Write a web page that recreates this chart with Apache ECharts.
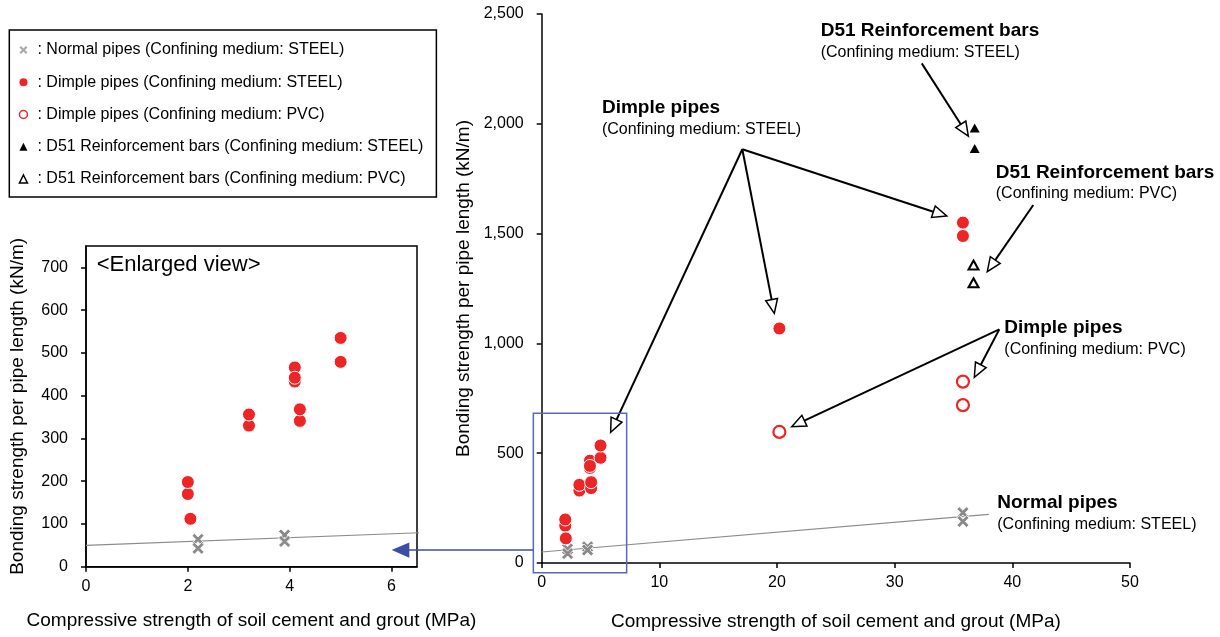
<!DOCTYPE html>
<html><head><meta charset="utf-8">
<script src="https://cdn.jsdelivr.net/npm/echarts@6/dist/echarts.min.js"></script>
<style>html,body{margin:0;padding:0;background:#fff}#c{width:1220px;height:637px}</style>
</head><body><div id="c"></div>
<script>
// ---- tick labels ----
const mainXTicks = [0, 10, 20, 30, 40, 50];
const mainYTicks = [0, 500, 1000, 1500, 2000, 2500];
const insetXTicks = [0, 2, 4, 6];
const insetYTicks = [0, 100, 200, 300, 400, 500, 600, 700];

// ---- series names ----
const nameNormalSteel = 'Normal pipes (Confining medium: STEEL)';
const nameDimpleSteel = 'Dimple pipes (Confining medium: STEEL)';
const nameDimplePvc = 'Dimple pipes (Confining medium: PVC)';
const nameD51Steel = 'D51 Reinforcement bars (Confining medium: STEEL)';
const nameD51Pvc = 'D51 Reinforcement bars (Confining medium: PVC)';

// ---- data [compressive strength MPa, bonding strength kN/m] ----
const normalPipesSteel = [[2.2, 64], [2.2, 43], [3.9, 74], [3.9, 59], [35.8, 229], [35.8, 189]];
const dimplePipesSteel = [[2.0, 170], [2.0, 198], [2.05, 112], [3.2, 330], [3.2, 356], [4.1, 433], [4.1, 466], [4.1, 442], [4.2, 341], [4.2, 368], [5.0, 479], [5.0, 535], [20.2, 1068], [35.8, 1550], [35.8, 1489]];
const dimplePipesPvc = [[20.2, 597], [35.8, 826], [35.8, 719]];
const d51BarsSteel = [[36.8, 1981], [36.8, 1887]];
const d51BarsPvc = [[36.7, 1357], [36.7, 1276]];
const normalTrend = [[0, 50], [38, 221]];

const FONT = '"Liberation Sans", Arial, Helvetica, sans-serif';
const RED = '#ee2526';
const GRAY = '#8a8a8a';
const CROSS = 'path://M2,0L5,3L8,0L10,2L7,5L10,8L8,10L5,7L2,10L0,8L3,5L0,2Z';
const INSET_MAX_X = 6.5;

const chart = echarts.init(document.getElementById('c'), null, {renderer: 'canvas'});

const axisCommon = {
  axisLine: {show: true, onZero: false, lineStyle: {color: '#000', width: 1.5}},
  axisTick: {show: true, length: 5, lineStyle: {color: '#000', width: 1.5}},
  splitLine: {show: false},
  axisLabel: {color: '#000', fontSize: 16, fontFamily: FONT, margin: 18},
  nameTextStyle: {color: '#000', fontSize: 19, fontFamily: FONT},
  nameLocation: 'middle'
};
function fmtThousands(v) { return String(v).replace(/\B(?=(\d{3})+(?!\d))/g, ','); }

const option = {
  animation: false,
  textStyle: {fontFamily: FONT},
  grid: [
    {left: 541.7, top: 14, width: 588.3, height: 549, containLabel: false, outerBoundsMode: 'none'},
    {left: 86, top: 246, width: 331, height: 320.7, containLabel: false, outerBoundsMode: 'none',
     show: true, borderColor: '#000', borderWidth: 1.5, backgroundColor: 'transparent'}
  ],
  xAxis: [
    Object.assign({}, axisCommon, {
      gridIndex: 0, type: 'value', min: mainXTicks[0], max: mainXTicks[mainXTicks.length - 1],
      interval: mainXTicks[1] - mainXTicks[0],
      name: 'Compressive strength of soil cement and grout (MPa)', nameGap: 49,
      axisLabel: Object.assign({}, axisCommon.axisLabel, {margin: 12})
    }),
    Object.assign({}, axisCommon, {
      gridIndex: 1, type: 'value', min: 0, max: INSET_MAX_X, interval: 2,
      name: 'Compressive strength of soil cement and grout (MPa)', nameGap: 45,
      axisLabel: Object.assign({}, axisCommon.axisLabel, {margin: 12, customValues: insetXTicks}),
      axisTick: Object.assign({}, axisCommon.axisTick, {customValues: insetXTicks})
    })
  ],
  yAxis: [
    Object.assign({}, axisCommon, {
      gridIndex: 0, type: 'value', min: mainYTicks[0], max: mainYTicks[mainYTicks.length - 1],
      interval: mainYTicks[1] - mainYTicks[0],
      name: 'Bonding strength per pipe length (kN/m)', nameGap: 68,
      axisLabel: Object.assign({}, axisCommon.axisLabel, {formatter: fmtThousands})
    }),
    Object.assign({}, axisCommon, {
      gridIndex: 1, type: 'value', min: 0, max: 750, interval: 100,
      name: 'Bonding strength per pipe length (kN/m)', nameGap: 59,
      axisLabel: Object.assign({}, axisCommon.axisLabel, {customValues: insetYTicks}),
      axisTick: Object.assign({}, axisCommon.axisTick, {customValues: insetYTicks})
    })
  ],
  legend: {
    orient: 'vertical', left: 9.3, top: 30,
    padding: [12, 13, 10, 9.4], itemGap: 16.25, itemWidth: 8, itemHeight: 8,
    borderColor: '#000', borderWidth: 1.5, selectedMode: false,
    textStyle: {fontSize: 16, color: '#000', fontFamily: FONT, padding: [0, 0, 0, 5]},
    formatter: function (n) { return ': ' + n; },
    data: [
      {name: nameNormalSteel, icon: CROSS, itemStyle: {color: '#ababab', borderWidth: 0}},
      {name: nameDimpleSteel, icon: 'circle', itemStyle: {color: RED, borderWidth: 0}},
      {name: nameDimplePvc, icon: 'circle', itemStyle: {color: '#fff', borderColor: RED, borderWidth: 1.5}},
      {name: nameD51Steel, icon: 'triangle', itemStyle: {color: '#000', borderWidth: 0}},
      {name: nameD51Pvc, icon: 'triangle', itemStyle: {color: '#fff', borderColor: '#000', borderWidth: 1.5}}
    ]
  },
  series: [
    {type: 'line', name: 'trend', xAxisIndex: 0, yAxisIndex: 0, data: normalTrend, showSymbol: false, symbol: 'none',
     lineStyle: {color: '#8c8c8c', width: 1.2}, silent: true, z: 1},
    {type: 'line', name: 'trend inset', xAxisIndex: 1, yAxisIndex: 1, data: normalTrend, showSymbol: false, symbol: 'none',
     clip: true, lineStyle: {color: '#8c8c8c', width: 1.2}, silent: true, z: 1},
    {type: 'scatter', name: nameNormalSteel, xAxisIndex: 0, yAxisIndex: 0, data: normalPipesSteel,
     symbol: CROSS, symbolSize: 12, itemStyle: {color: GRAY, borderColor: '#fff', borderWidth: 0.8, opacity: 1}, z: 3},
    {type: 'scatter', name: nameDimpleSteel, xAxisIndex: 0, yAxisIndex: 0, data: dimplePipesSteel,
     symbol: 'circle', symbolSize: 13, itemStyle: {color: RED, borderColor: '#fff', borderWidth: 1, opacity: 1}, z: 3},
    {type: 'scatter', name: nameDimplePvc, xAxisIndex: 0, yAxisIndex: 0, data: dimplePipesPvc,
     symbol: 'circle', symbolSize: 12, itemStyle: {color: '#fff', borderColor: RED, borderWidth: 2.2, opacity: 1}, z: 3},
    {type: 'scatter', name: nameD51Steel, xAxisIndex: 0, yAxisIndex: 0, data: d51BarsSteel,
     symbol: 'triangle', symbolSize: [10, 9], itemStyle: {color: '#000', opacity: 1}, z: 3},
    {type: 'scatter', name: nameD51Pvc, xAxisIndex: 0, yAxisIndex: 0, data: d51BarsPvc,
     symbol: 'triangle', symbolSize: [10, 9], itemStyle: {color: '#fff', borderColor: '#000', borderWidth: 2, opacity: 1}, z: 3},
    {type: 'scatter', name: nameNormalSteel, xAxisIndex: 1, yAxisIndex: 1,
     data: normalPipesSteel.filter(function (d) { return d[0] <= INSET_MAX_X; }),
     symbol: CROSS, symbolSize: 12, itemStyle: {color: GRAY, borderColor: '#fff', borderWidth: 0.8, opacity: 1}, z: 3},
    {type: 'scatter', name: nameDimpleSteel, xAxisIndex: 1, yAxisIndex: 1,
     data: dimplePipesSteel.filter(function (d) { return d[0] <= INSET_MAX_X; }),
     symbol: 'circle', symbolSize: 13, itemStyle: {color: RED, borderColor: '#fff', borderWidth: 1, opacity: 1}, z: 3}
  ]
};
chart.setOption(option);

// ---- annotations (positions in main-chart data coordinates) ----
const annoTexts = [
  {head: 'Dimple pipes', sub: '(Confining medium: STEEL)', at: [5.12, 2072]},
  {head: 'D51 Reinforcement bars', sub: '(Confining medium: STEEL)', at: [23.71, 2424]},
  {head: 'D51 Reinforcement bars', sub: '(Confining medium: PVC)', at: [38.59, 1779]},
  {head: 'Dimple pipes', sub: '(Confining medium: PVC)', at: [39.32, 1071]},
  {head: 'Normal pipes', sub: '(Confining medium: STEEL)', at: [38.72, 275]}
];
const annoArrows = [
  {from: [17.05, 1884], to: [[19.77, 1137], [34.42, 1580], [5.86, 595]]},
  {from: [32.30, 2275], to: [[36.26, 1944]]},
  {from: [41.78, 1630], to: [[37.87, 1327]]},
  {from: [38.89, 1064], to: [[36.77, 846], [21.25, 621]]}
];
const zoomBox = {from: [-0.71, 682], to: [7.22, -44]};
const zoomArrow = {mainFrom: [-0.71, 59], insetToX: 6.04};

function P(pt, gi) { return chart.convertToPixel({gridIndex: gi || 0}, pt); }
function arrow(p0, p1, color, filled, hl, hw, lw) {
  const dx = p1[0] - p0[0], dy = p1[1] - p0[1], L = Math.hypot(dx, dy), ux = dx / L, uy = dy / L;
  const bx = p1[0] - ux * hl, by = p1[1] - uy * hl;
  return [
    {type: 'line', z: 100, silent: true, shape: {x1: p0[0], y1: p0[1], x2: bx, y2: by}, style: {stroke: color, lineWidth: lw}},
    {type: 'polygon', z: 101, silent: true, shape: {points: [p1, [bx - uy * hw, by + ux * hw], [bx + uy * hw, by - ux * hw]]},
     style: {fill: filled ? color : '#fff', stroke: color, lineWidth: 1.5, lineJoin: 'miter'}}
  ];
}
const g = [];
annoTexts.forEach(function (t) {
  const p = P(t.at);
  g.push({type: 'text', z: 100, silent: true, x: p[0], y: p[1],
    style: {text: t.head, fill: '#000', font: 'bold 19px ' + FONT, align: 'left', verticalAlign: 'middle'}});
  g.push({type: 'text', z: 100, silent: true, x: p[0], y: p[1] + 21.5,
    style: {text: t.sub, fill: '#000', font: '16px ' + FONT, align: 'left', verticalAlign: 'middle'}});
});
annoArrows.forEach(function (a) {
  const p0 = P(a.from);
  a.to.forEach(function (t) { arrow(p0, P(t), '#000', false, 14, 6, 2).forEach(function (e) { g.push(e); }); });
});
const b0 = P(zoomBox.from), b1 = P(zoomBox.to);
g.push({type: 'rect', z: 100, silent: true, shape: {x: b0[0], y: b0[1], width: b1[0] - b0[0], height: b1[1] - b0[1]},
  style: {fill: 'none', stroke: '#5868b8', lineWidth: 1.5}});
const a0 = P(zoomArrow.mainFrom);
const a1x = P([zoomArrow.insetToX, 0], 1)[0];
arrow(a0, [a1x, a0[1]], '#3b4ea6', true, 15, 6.5, 1.5).forEach(function (e) { g.push(e); });
const ev = P([0.21, 705.6], 1);
g.push({type: 'text', z: 100, silent: true, x: ev[0], y: ev[1],
  style: {text: '<Enlarged view>', fill: '#000', font: '22px ' + FONT, align: 'left', verticalAlign: 'middle'}});

chart.setOption({graphic: g});
</script>
</body></html>
